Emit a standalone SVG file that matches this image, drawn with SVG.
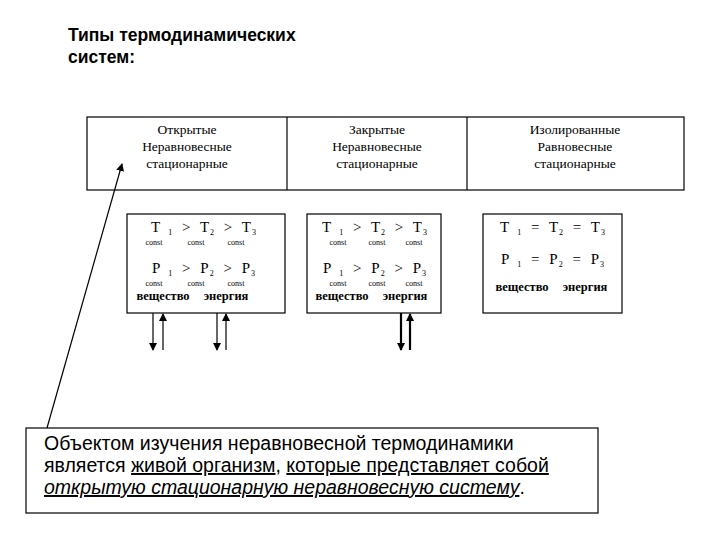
<svg xmlns="http://www.w3.org/2000/svg" width="720" height="540" viewBox="0 0 720 540">
<defs>
<style>
.b{fill:#fff;stroke:#000;stroke-width:1.2}
.h{font-family:"Liberation Serif",serif;font-size:13.5px;text-anchor:middle}
.f{font-family:"Liberation Serif",serif;font-size:15px;text-anchor:middle;word-spacing:4px;letter-spacing:1px}
.f tspan{font-size:8px;baseline-shift:-3px}
.s{font-family:"Liberation Serif",serif;font-size:8px;text-anchor:middle}
.w{font-family:"Liberation Serif",serif;font-size:12.5px;font-weight:bold;text-anchor:middle}
.ln{stroke:#000;stroke-width:1.2;fill:none}
.t{font-family:"Liberation Sans",Arial,sans-serif;font-size:19.5px}
.tt{font-family:"Liberation Sans",Arial,sans-serif;font-size:17.5px;font-weight:bold}
</style>
<marker id="a" markerWidth="8" markerHeight="8" refX="7" refY="4" orient="auto" markerUnits="userSpaceOnUse"><path d="M0,0L8,4L0,8z"/></marker>
</defs>
<text class="tt" x="68" y="41">Типы термодинамических</text>
<text class="tt" x="68" y="63">систем:</text>
<g id="table">
<rect class="b" x="87" y="117" width="597" height="73"/>
<line class="ln" x1="287" y1="117" x2="287" y2="190"/>
<line class="ln" x1="467" y1="117" x2="467" y2="190"/>
<text class="h" x="187" y="134">Открытые</text><text class="h" x="187" y="151">Неравновесные</text><text class="h" x="187" y="168">стационарные</text>
<text class="h" x="377" y="134">Закрытые</text><text class="h" x="377" y="151">Неравновесные</text><text class="h" x="377" y="168">стационарные</text>
<text class="h" x="575" y="134">Изолированные</text><text class="h" x="575" y="151">Равновесные</text><text class="h" x="575" y="168">стационарные</text>
</g>
<g id="open">
<rect class="b" x="127" y="214" width="158" height="99"/>
<text class="f" x="204" y="232">T<tspan> 1</tspan> &gt; T<tspan>2</tspan> &gt; T<tspan>3</tspan></text>
<text class="s" x="154" y="245">const</text><text class="s" x="196" y="245">const</text><text class="s" x="236" y="245">const</text>
<text class="f" x="204" y="273">P<tspan> 1</tspan> &gt; P<tspan>2</tspan> &gt; P<tspan>3</tspan></text>
<text class="s" x="154" y="286">const</text><text class="s" x="196" y="286">const</text><text class="s" x="236" y="286">const</text>
<text class="w" x="163" y="300">вещество</text><text class="w" x="226" y="300">энергия</text>
</g>
<g id="closed">
<rect class="b" x="307" y="214" width="134" height="99"/>
<text class="f" x="375" y="232">T<tspan> 1</tspan> &gt; T<tspan>2</tspan> &gt; T<tspan>3</tspan></text>
<text class="s" x="338" y="245">const</text><text class="s" x="377" y="245">const</text><text class="s" x="414" y="245">const</text>
<text class="f" x="375" y="273">P<tspan> 1</tspan> &gt; P<tspan>2</tspan> &gt; P<tspan>3</tspan></text>
<text class="s" x="338" y="286">const</text><text class="s" x="377" y="286">const</text><text class="s" x="414" y="286">const</text>
<text class="w" x="342" y="300">вещество</text><text class="w" x="405" y="300">энергия</text>
</g>
<g id="isolated">
<rect class="b" x="483" y="214" width="139" height="99"/>
<text class="f" x="553" y="232">T<tspan> 1</tspan> = T<tspan>2</tspan> = T<tspan>3</tspan></text>
<text class="f" x="553" y="264">P<tspan> 1</tspan> = P<tspan>2</tspan> = P<tspan>3</tspan></text>
<text class="w" x="522" y="291">вещество</text><text class="w" x="585" y="291">энергия</text>
</g>
<g id="note">
<rect class="b" x="26" y="428" width="572" height="85"/>
<text class="t" x="44" y="450">Объектом изучения неравновесной термодинамики</text>
<text class="t" x="44" y="472">является <tspan text-decoration="underline">живой организм</tspan>, <tspan text-decoration="underline">которые представляет собой</tspan></text>
<text class="t" x="44" y="494"><tspan font-style="italic" text-decoration="underline">открытую стационарную неравновесную систему</tspan>.</text>
</g>
<g id="connectors">
<line class="ln" x1="153" y1="313" x2="153" y2="350" marker-end="url(#a)"/>
<line class="ln" x1="163" y1="350" x2="163" y2="314" marker-end="url(#a)"/>
<line class="ln" x1="217" y1="313" x2="217" y2="350" marker-end="url(#a)"/>
<line class="ln" x1="226" y1="350" x2="226" y2="314" marker-end="url(#a)"/>
<line stroke="#000" stroke-width="2.2" x1="401" y1="313" x2="401" y2="350" marker-end="url(#a)"/>
<line stroke="#000" stroke-width="2.2" x1="410" y1="350" x2="410" y2="314" marker-end="url(#a)"/>
<line class="ln" x1="47" y1="428" x2="122" y2="164" marker-end="url(#a)"/>
</g>
</svg>
